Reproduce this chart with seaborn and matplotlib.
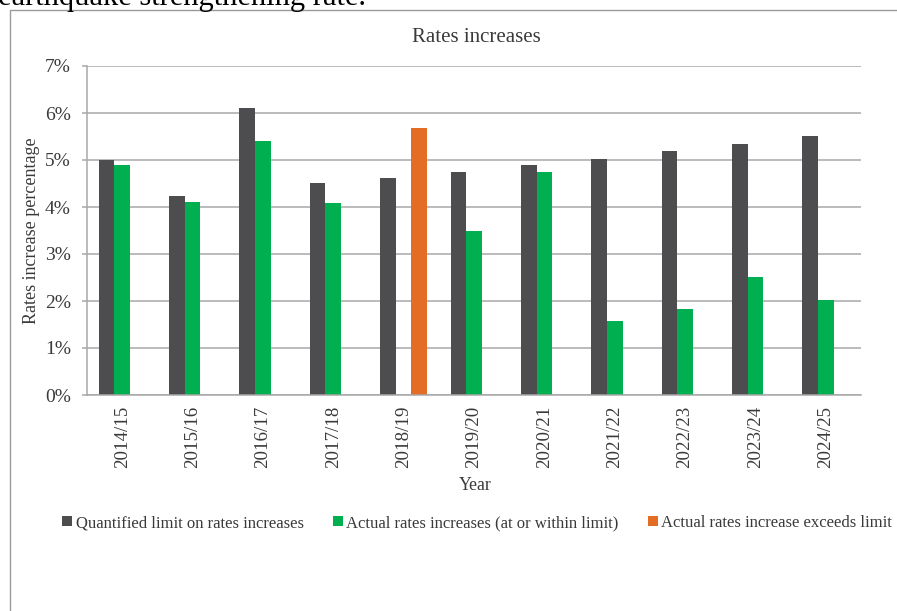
import matplotlib
matplotlib.use("Agg")
import matplotlib.pyplot as plt
import seaborn as sns
import pandas as pd
from matplotlib.patches import Patch, Rectangle
from matplotlib.ticker import FuncFormatter, MultipleLocator

# Financial years on the category axis
years = ["2014/15", "2015/16", "2016/17", "2017/18", "2018/19", "2019/20",
         "2020/21", "2021/22", "2022/23", "2023/24", "2024/25"]

# Rates increase percentages per year (None = no bar for that series)
quantified_limit = [5.00, 4.23, 6.11, 4.52, 4.61, 4.74, 4.89, 5.03, 5.19, 5.35, 5.52]
actual_within = [4.89, 4.10, 5.41, 4.08, None, 3.50, 4.75, 1.58, 1.83, 2.51, 2.02]
actual_exceeds = [None, None, None, None, 5.68, None, None, None, None, None, None]

series_names = ["Quantified limit on rates increases",
                "Actual rates increases (at or within limit)",
                "Actual rates increase exceeds limit"]
series_colors = ["#4D4D4F", "#00B050", "#E46D26"]

# Long-form table for seaborn
rows = []
for name, values in zip(series_names, [quantified_limit, actual_within, actual_exceeds]):
    for yr, v in zip(years, values):
        if v is not None:
            rows.append({"Year": yr, "Rate": v, "Series": name})
df = pd.DataFrame(rows)

sns.set_theme(style="white")
plt.rcParams["font.family"] = ["Liberation Serif", "DejaVu Serif"]

text_col = "#3A3A3A"
grid_col = "#A8A8A8"

W, H = 897, 611
fig = plt.figure(figsize=(W / 100, H / 100), dpi=100)
ax = fig.add_axes([87 / W, 1 - 395 / H, (861 - 87) / W, (395 - 66) / H])

sns.barplot(data=df, x="Year", y="Rate", hue="Series", hue_order=series_names,
            order=years, palette=series_colors, width=0.667, dodge=True,
            saturation=1, linewidth=0, legend=False, ax=ax)

ax.set_xlim(-0.5, len(years) - 0.5)
ax.set_ylim(0, 7)
ax.yaxis.set_major_locator(MultipleLocator(1))
ax.yaxis.set_major_formatter(FuncFormatter(lambda v, _: f"{v:.0f}%"))
ax.yaxis.grid(True, color=grid_col, linewidth=1.1)
ax.set_axisbelow(True)

for side in ["top", "right"]:
    ax.spines[side].set_visible(False)
for side in ["left", "bottom"]:
    ax.spines[side].set_color(grid_col)
    ax.spines[side].set_linewidth(1.1)

ax.tick_params(axis="y", length=3.6, width=1.1, color=grid_col, labelsize=14,
               pad=8, labelcolor=text_col, left=True)
ax.tick_params(axis="x", length=0, labelsize=13.6, pad=8, labelcolor=text_col,
               labelrotation=90)
ax.set_xlabel("")
ax.set_ylabel("")

fig.text(32 / W, 1 - 231 / H, "Rates increase percentage", rotation=90,
         ha="center", va="center", fontsize=13, color=text_col)
fig.text(475 / W, 1 - 486 / H, "Year", ha="center", va="center",
         fontsize=12.8, color=text_col)
fig.text(476 / W, 1 - 37 / H, "Rates increases", ha="center", va="center",
         fontsize=15, color=text_col)

handles = [Patch(facecolor=c, edgecolor="none") for c in series_colors]
fig.legend(handles, series_names, loc="center",
           bbox_to_anchor=(477 / W, 1 - 523 / H), ncol=3, frameon=False,
           fontsize=12, handlelength=0.6, handleheight=0.6,
           handletextpad=0.2, columnspacing=1.75, labelcolor=text_col,
           borderaxespad=0, borderpad=0)

# Chart frame
fig.add_artist(Rectangle((10 / W, -0.1), 1.2, 1 - 10 / H + 0.1,
                         transform=fig.transFigure, fill=False,
                         edgecolor="#9A9A9A", linewidth=1))

# Tail of the preceding paragraph
fig.text(-2 / W, 1 - 5 / H, "earthquake strengthening rate.", ha="left",
         va="baseline", fontsize=22, color="black")

fig.savefig("out.png", dpi=100)
